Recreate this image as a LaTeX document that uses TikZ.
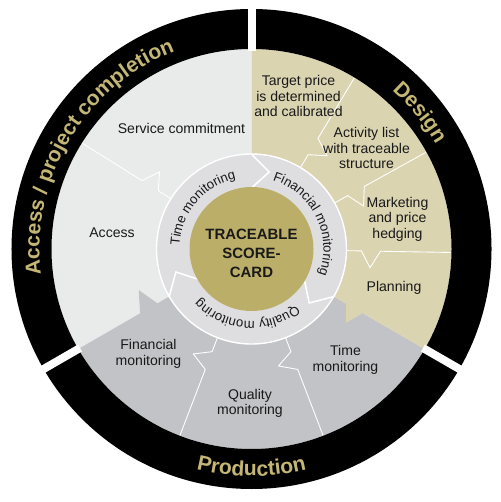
\documentclass[tikz,border=0pt]{standalone}
\usepackage{fontspec}
\setmainfont{Liberation Sans}
\usepackage{tikz}
\usetikzlibrary{calc}
\usetikzlibrary{decorations.text}
\definecolor{lightsec}{HTML}{E9EAEA}
\definecolor{beigesec}{HTML}{DAD4B1}
\definecolor{graysec}{HTML}{C1C3C6}
\definecolor{ringgray}{HTML}{DEDEE0}
\definecolor{cardgold}{HTML}{BBAE68}
\definecolor{textgold}{HTML}{C4B775}
\tikzset{every picture/.style={line width=0.5pt},stage/.style={font=\fontsize{8}{8.8}\selectfont,align=center,text=black!90},phase/.style={decorate,decoration={text along path,text align=center,text color=textgold,text={|\bfseries\fontsize{12}{14}\selectfont|#1}}},monitor/.style={decorate,decoration={text along path,text align=center,text color=black!90,text={|\fontsize{7.5}{8}\selectfont|#1}}}}

\begin{document}
\begin{tikzpicture}[x=0.02cm, y=0.02cm]
\useasboundingbox (-251.5,-253) rectangle (248.5,249);
\fill[lightsec] (0,0) -- (90:200) arc[start angle=90, end angle=210, radius=200] -- cycle;
\fill[graysec] (0,0) -- (210:200) arc[start angle=210, end angle=330, radius=200] -- cycle;
\fill[beigesec] (0,0) -- (-30:200) arc[start angle=-30, end angle=90, radius=200] -- cycle;
\fill[graysec] (212:131) -- (200:120) -- (212:107) -- cycle;
\fill[beigesec] (-28:131) -- (-38:120) -- (-28:107) -- cycle;
\foreach \a in {148, 59, 29, -1, 249, 291} {
	\draw[white] (\a:200) -- (\a:129) -- ({\a-8}:120) -- (\a:110) -- (\a:95);
}
\fill[black, even odd rule] (0,0) circle[radius=240] (0,0) circle[radius=200];
\foreach \a in {90, 210, 330} {
	\draw[white, line width=0.16cm] (\a:198) -- (\a:243);
}
\foreach \lo in {90, 210, 330} {
	\filldraw[fill=ringgray, draw=white, line width=0.8pt] (\lo:95) arc[start angle=\lo, end angle=\lo+120, radius=95] -- ({\lo+107}:79) -- ({\lo+120}:61) arc[start angle=\lo+120, end angle=\lo, radius=61] -- ({\lo-13}:79) -- cycle;
}
\fill[cardgold] (0,0) circle[radius=62];
\path[phase={Access / project completion}] (199:212) arc[start angle=199, end angle=99, radius=212];
\path[phase={Design}] (69:212) arc[start angle=69, end angle=9, radius=212];
\path[phase={Production}] (230:227) arc[start angle=230, end angle=310, radius=227];
\path[monitor={Time monitoring}] (200:72) arc[start angle=200, end angle=80, radius=72];
\path[monitor={Financial monitoring}] (86:72) arc[start angle=86, end angle=-34, radius=72];
\path[monitor={Quality monitoring}] (326:72) arc[start angle=326, end angle=206, radius=72];
\node[stage] (service) at (-70,121) {Service commitment};
\node[stage] (access) at (-139.5,16) {Access};
\node[stage] (target) at (47,153) {Target price\\is determined\\and calibrated};
\node[stage] (activity) at (115,101) {Activity list\\with traceable\\structure};
\node[stage] (marketing) at (146,30) {Marketing\\and price\\hedging};
\node[stage] (planning) at (142.5,-39) {Planning};
\node[stage] (finmon) at (-103,-105) {Financial\\monitoring};
\node[stage] (qualmon) at (-1.5,-154.5) {Quality\\monitoring};
\node[stage] (timemon) at (94,-111) {Time\\monitoring};
\node[font=\bfseries\fontsize{8.5}{10.8}\selectfont, align=center, text=black!90] (card) at (0,-4) {TRACEABLE\\SCORE-\\CARD};
\end{tikzpicture}
\end{document}
